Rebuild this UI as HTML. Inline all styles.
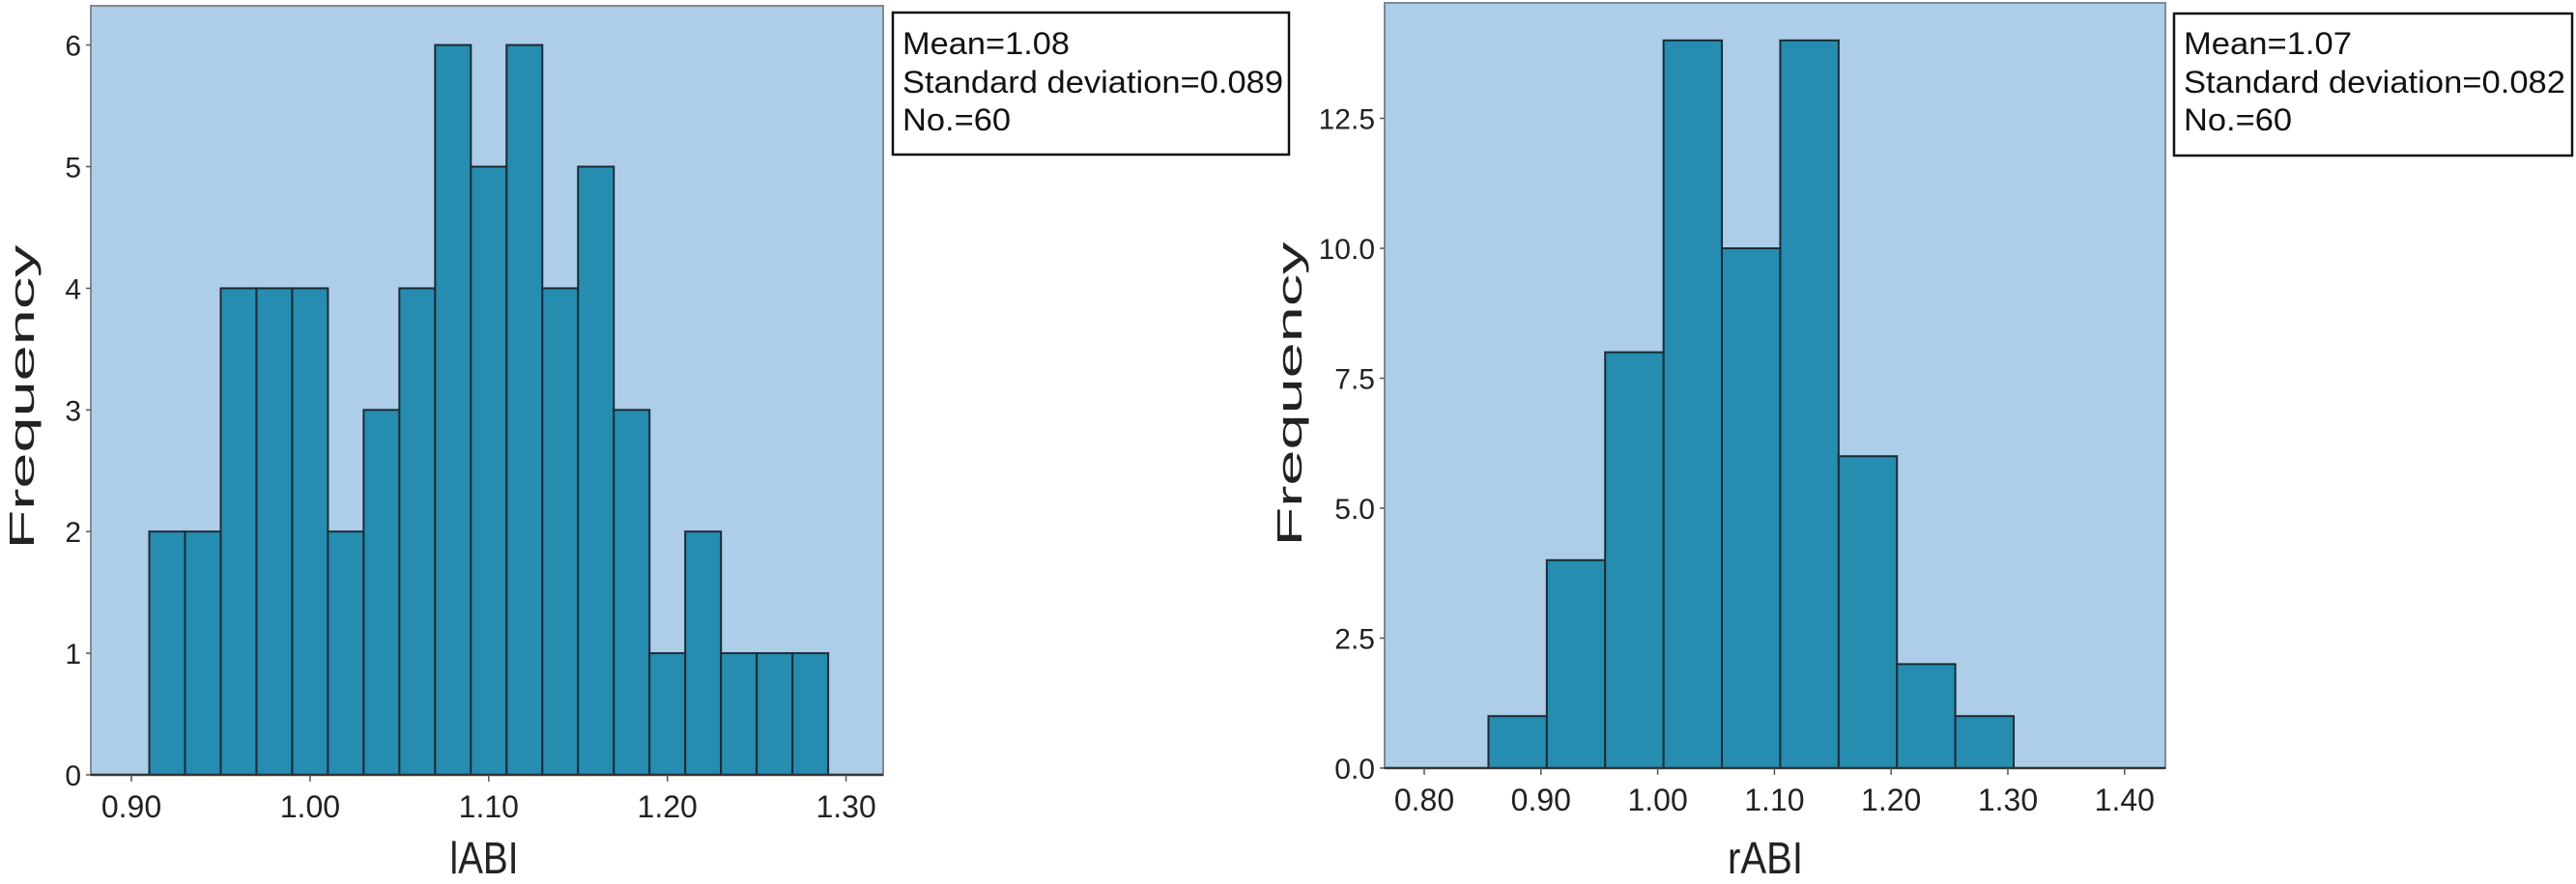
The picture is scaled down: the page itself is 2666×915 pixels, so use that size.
<!DOCTYPE html>
<html><head><meta charset="utf-8"><style>
html,body{margin:0;padding:0;background:#fff;}
svg{display:block;font-family:"Liberation Sans",Arial,sans-serif;}
</style></head><body>
<svg id="chart" width="2666" height="915" viewBox="0 0 2666 915" xmlns="http://www.w3.org/2000/svg"></svg>
<script>
// Left histogram (lABI)
const leftBinStarts = [0.91,0.93,0.95,0.97,0.99,1.01,1.03,1.05,1.07,1.09,1.11,1.13,1.15,1.17,1.19,1.21,1.23,1.25,1.27];
const leftCounts = [2,2,4,4,4,2,3,4,6,5,6,4,5,3,1,2,1,1,1];
const leftBinWidth = 0.02;
const leftXTicks = [0.90,1.00,1.10,1.20,1.30];
const leftYTicks = [0,1,2,3,4,5,6];
const leftStats = ["Mean=1.08","Standard deviation=0.089","No.=60"];
// Right histogram (rABI)
const rightBinStarts = [0.855,0.905,0.955,1.005,1.055,1.105,1.155,1.205,1.255];
const rightCounts = [1,4,8,14,10,14,6,2,1];
const rightBinWidth = 0.05;
const rightXTicks = [0.80,0.90,1.00,1.10,1.20,1.30,1.40];
const rightYTicks = [0,2.5,5,7.5,10,12.5];
const rightStats = ["Mean=1.07","Standard deviation=0.082","No.=60"];

const NS = "http://www.w3.org/2000/svg";
const svg = document.getElementById("chart");
function mk(tag, attrs, parent){
  const e = document.createElementNS(NS, tag);
  for (const k in attrs) e.setAttribute(k, attrs[k]);
  (parent||svg).appendChild(e);
  return e;
}

function drawHist(cfg){
  const g = mk("g", {});
  
  
  const xs = v => cfg.x0px + (v - cfg.x0val) * cfg.pxPerUnitX;
  const ys = v => cfg.y0px - v * cfg.pxPerUnitY;
  const bg = mk("rect", {x:cfg.fx1, y:cfg.fy1, width:cfg.fx2-cfg.fx1, height:cfg.fy2-cfg.fy1, fill:"#adcde9", stroke:"#7d8a96", "stroke-width":2}, g);
  
  
  cfg.starts.forEach((s,i)=>{
    const x1 = xs(s), x2 = xs(s+cfg.bw), y = ys(cfg.counts[i]);
    const r = mk("rect", {x:x1, y:y, width:x2-x1, height:cfg.y0px-y, fill:"#268db0", stroke:"#1b2b33", "stroke-width":2}, g);
    
    
  });
  const ax = mk("line", {x1:cfg.fx1, x2:cfg.fx2, y1:cfg.y0px, y2:cfg.y0px, stroke:"#333", "stroke-width":2.5}, g);
  
  
  cfg.xticks.forEach(t=>{
    const x = xs(t);
    mk("line", {x1:x, x2:x, y1:cfg.y0px, y2:cfg.y0px+7, stroke:"#555", "stroke-width":1.5}, g);
    const tx = mk("text", {x:x, y:cfg.y0px+44, "font-size":32, "text-anchor":"middle", fill:"#222"}, g);
    tx.textContent = t.toFixed(2);
    
    
  });
  cfg.yticks.forEach(t=>{
    const y = ys(t);
    mk("line", {x1:cfg.fx1-5, x2:cfg.fx1, y1:y, y2:y, stroke:"#555", "stroke-width":1.5}, g);
    const tx = mk("text", {x:cfg.fx1-10, y:y+11, "font-size":30, "text-anchor":"end", fill:"#222"}, g);
    tx.textContent = cfg.yfmt(t);
    
    
  });
  const xt = mk("text", {x:cfg.xtitleX, y:904, "font-size":46, "text-anchor":"middle", textLength:cfg.xtitleLen, lengthAdjust:"spacingAndGlyphs", fill:"#222"}, g);
  xt.textContent = cfg.xtitle;
  
  
  const yt = mk("text", {x:0, y:0, "font-size":36, "text-anchor":"middle", textLength:315, lengthAdjust:"spacingAndGlyphs", fill:"#222", transform:`translate(${cfg.ytitleX},${cfg.ytitleY}) rotate(-90)`}, g);
  yt.textContent = "Frequency";
  
  
  const box = mk("rect", {x:cfg.bx, y:cfg.by, width:cfg.bwid, height:147, fill:"#fff", stroke:"#111", "stroke-width":2.5}, g);
  
  
  const lens = cfg.statLens;
  cfg.stats.forEach((s,i)=>{
    const t = mk("text", {x:cfg.bx+10, y:[56,96,135][i], "font-size":32, textLength:lens[i], lengthAdjust:"spacingAndGlyphs", fill:"#111"}, g);
    t.textContent = s;
    
    
  });
}

drawHist({name:"left-histogram", starts:leftBinStarts, counts:leftCounts, bw:leftBinWidth,
  xticks:leftXTicks, yticks:leftYTicks, yfmt:t=>String(t), stats:leftStats,
  x0val:0.90, x0px:136, pxPerUnitX:1849, y0px:802, pxPerUnitY:125.9,
  fx1:94, fx2:914, fy1:6, fy2:802, xtitle:"lABI", xtitleX:501, xtitleLen:71,
  ytitleX:35, ytitleY:411, bx:924, by:13, bwid:410, statLens:[173,394,112]});
drawHist({name:"right-histogram", starts:rightBinStarts, counts:rightCounts, bw:rightBinWidth,
  xticks:rightXTicks, yticks:rightYTicks, yfmt:t=>t.toFixed(1), stats:rightStats,
  x0val:0.80, x0px:1474, pxPerUnitX:1208, y0px:795, pxPerUnitY:53.8,
  fx1:1433, fx2:2241, fy1:3, fy2:795, xtitle:"rABI", xtitleX:1827, xtitleLen:78,
  ytitleX:1347, ytitleY:408, bx:2250, by:14, bwid:412, statLens:[174,395,112]});
</script>
</body></html>
